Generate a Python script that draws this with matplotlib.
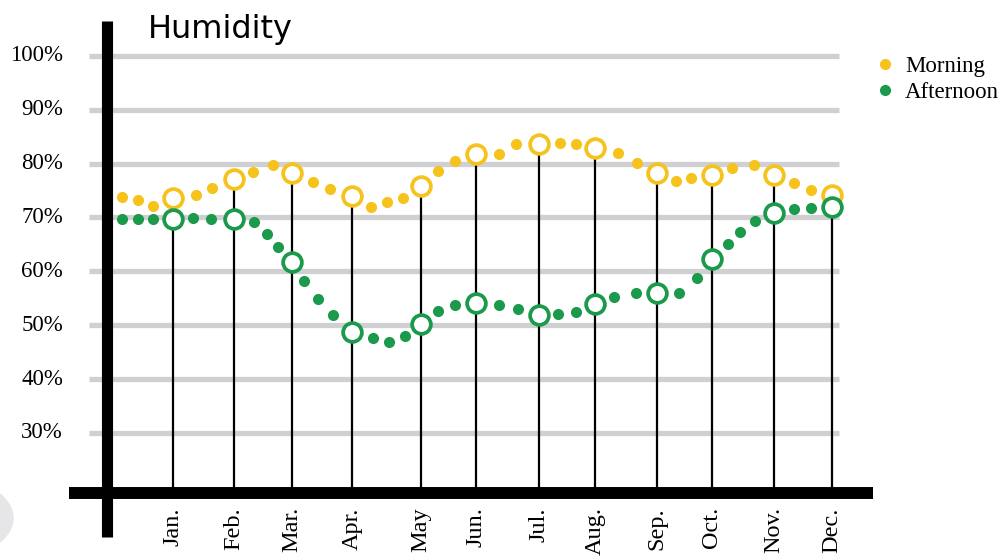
import matplotlib
matplotlib.use("Agg")
import matplotlib.pyplot as plt
from matplotlib.lines import Line2D
from matplotlib.patches import Circle

# time positions are day-of-year style units
month_labels = ["Jan.", "Feb.", "Mar.", "Apr.", "May", "Jun.",
                "Jul.", "Aug.", "Sep.", "Oct.", "Nov.", "Dec."]
month_days = [26.8, 57.8, 87.2, 117.6, 152.5, 180.4,
              212.4, 240.7, 272.2, 300.0, 331.5, 360.9]

morning_month = [73.6, 77.1, 78.3, 74.0, 75.8, 81.8,
                 83.6, 82.9, 78.3, 77.9, 77.9, 74.2]
afternoon_month = [69.7, 69.7, 61.7, 48.7, 50.2, 54.1,
                   51.9, 53.9, 56.0, 62.3, 70.8, 71.9]

morning_days = [1.0, 9.1, 16.7, 38.5, 46.6, 67.4, 77.5, 97.8, 106.4, 127.2,
                135.3, 143.4, 161.2, 169.8, 192.1, 200.7, 223.0, 231.1, 252.4,
                262.0, 281.8, 289.4, 310.2, 321.3, 341.6, 350.2]
morning_vals = [73.8, 73.2, 72.1, 74.2, 75.5, 78.4, 79.7, 76.6, 75.3, 72.0,
                72.9, 73.6, 78.6, 80.5, 81.8, 83.6, 83.8, 83.6, 82.0,
                80.1, 76.8, 77.3, 79.2, 79.7, 76.4, 75.1]

afternoon_days = [1.0, 9.1, 16.7, 37.0, 46.1, 67.9, 74.5, 80.1, 93.2, 100.2,
                  107.9, 128.2, 136.3, 144.4, 161.2, 169.8, 192.1, 201.7,
                  222.0, 231.1, 250.4, 261.6, 283.3, 292.4, 308.1, 314.2,
                  321.8, 341.6, 350.2]
afternoon_vals = [69.7, 69.7, 69.7, 69.9, 69.7, 69.2, 66.9, 64.5, 58.2, 54.9,
                  51.9, 47.6, 46.9, 48.0, 52.6, 53.7, 53.7, 53.0, 52.1, 52.4,
                  55.2, 56.0, 56.0, 58.8, 65.1, 67.3, 69.3, 71.6, 71.8]

yticks = [30, 40, 50, 60, 70, 80, 90, 100]

YELLOW = "#F6C21C"
GREEN = "#1B9A4B"
GRID = "#D0D0D2"
BASE = 18.8          # value where the thick x axis sits

fig = plt.figure(figsize=(10.02, 5.56), dpi=100)
ax = fig.add_axes([0, 0, 1, 1])
ax.set_xlim(-60.8, 447.0)
ax.set_ylim(7.13, 110.39)
ax.axis("off")

# decorative grey disc at the bottom-left edge
fig.patches.append(Circle((-64.6 / 1002, 1 - 518 / 556), 77.6 / 1002,
                          transform=fig.transFigure, color="#E6E6E8",
                          zorder=0))

ax.hlines(yticks, -15.7, 364.4, color=GRID, lw=3.8, zorder=1)

tops = [max(m, a) for m, a in zip(morning_month, afternoon_month)]
ax.vlines(month_days, BASE, tops, color="black", lw=1.6, zorder=2)

# thick axes
ax.add_line(Line2D([107 / 1002, 107 / 1002], [1 - 21 / 556, 1 - 537 / 556],
                   transform=ax.transAxes, color="black", lw=8,
                   solid_capstyle="butt", zorder=3))
ax.add_line(Line2D([69 / 1002, 873 / 1002], [1 - 493 / 556, 1 - 493 / 556],
                   transform=ax.transAxes, color="black", lw=8.6,
                   solid_capstyle="butt", zorder=3))

ax.plot(morning_days, morning_vals, "o", color=YELLOW, ms=8, mew=0, zorder=4)
ax.plot(afternoon_days, afternoon_vals, "o", color=GREEN, ms=8, mew=0,
        zorder=4)
ax.plot(month_days, morning_month, "o", mfc="white", mec=YELLOW, ms=13.5,
        mew=2.7, zorder=5)
ax.plot(month_days, afternoon_month, "o", mfc="white", mec=GREEN, ms=13.5,
        mew=2.7, zorder=5)

serif = "Liberation Serif"
for v in yticks:
    ax.annotate(f"{v}%", xy=(0, v), xycoords=("axes fraction", "data"),
                xytext=(63, 0), textcoords="offset pixels", ha="right",
                va="center", fontsize=16.5, family=serif)

for d, lab in zip(month_days, month_labels):
    ax.annotate(lab, xy=(d, BASE), xytext=(0, -14), textcoords="offset pixels",
                ha="center", va="top", rotation=90, fontsize=17.5,
                family=serif)

fig.text(148 / 1002, 1 - 38 / 556, "Humidity", fontsize=23, family="DejaVu Sans",
         ha="left", va="baseline")

handles = [Line2D([], [], ls="none", marker="o", color=YELLOW, ms=8, mew=0),
           Line2D([], [], ls="none", marker="o", color=GREEN, ms=8, mew=0)]
ax.legend(handles, ["Morning", "Afternoon"], loc="upper left",
          bbox_to_anchor=(864 / 1002, 1 - 45 / 556),
          bbox_transform=fig.transFigure, frameon=False, borderpad=0,
          handlelength=0.8, handletextpad=0.5, labelspacing=0.2,
          prop={"family": serif, "size": 16.5})

fig.savefig("out.png", dpi=100)
